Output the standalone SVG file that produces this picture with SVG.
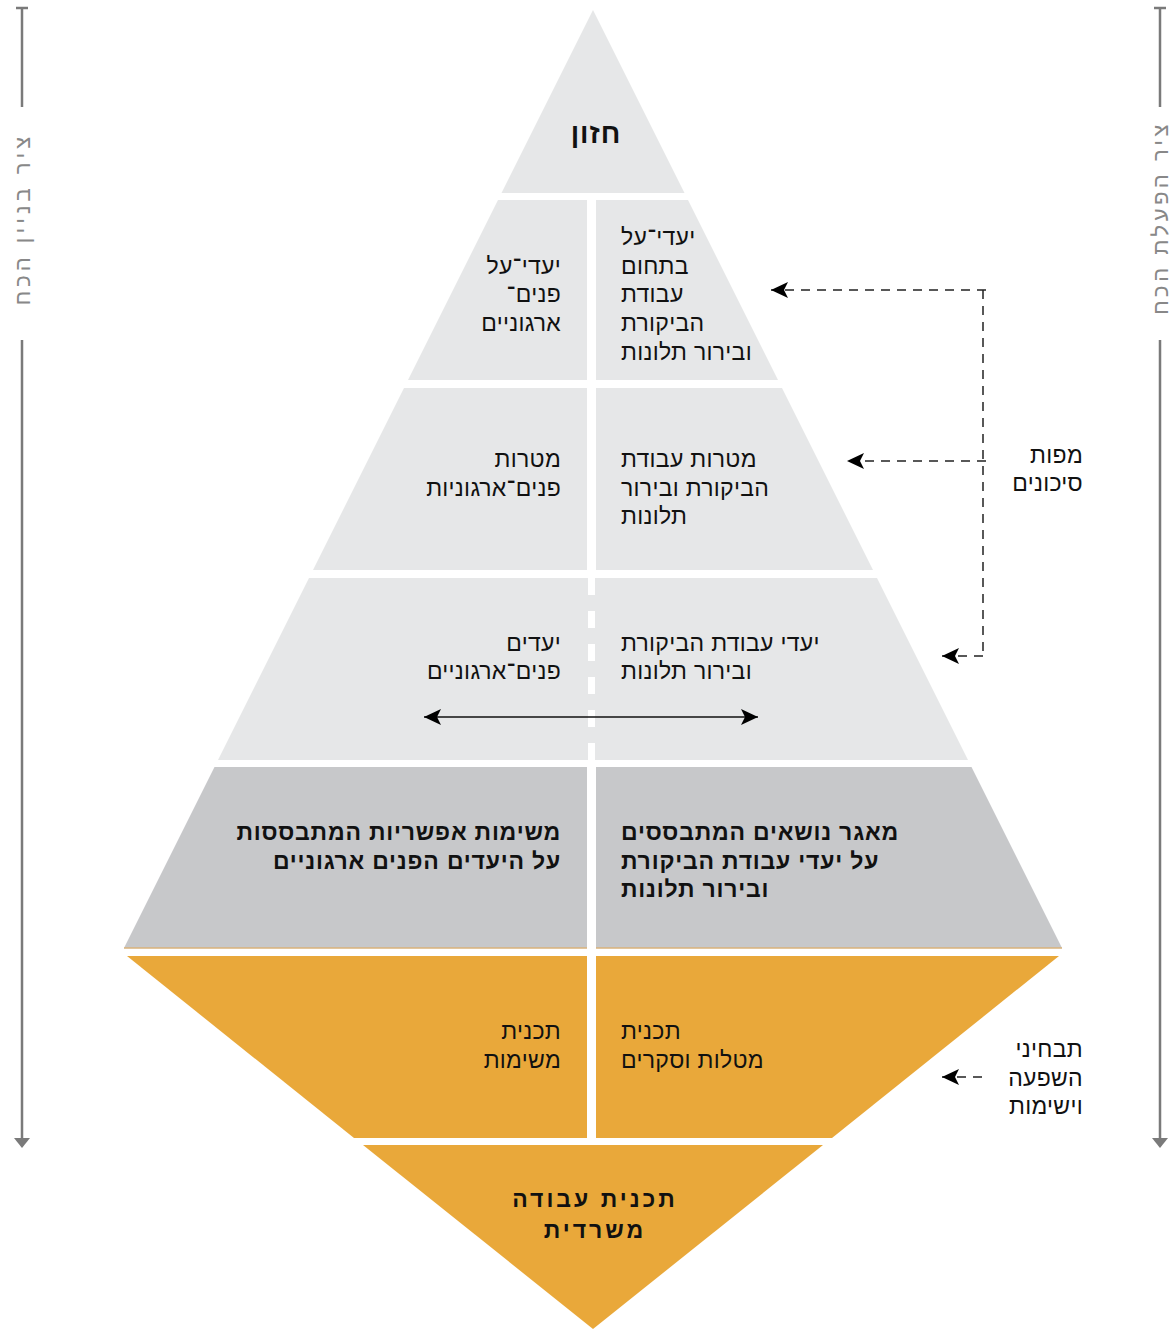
<svg xmlns="http://www.w3.org/2000/svg" width="1171" height="1329" viewBox="0 0 1171 1329">
<style>
.lg{fill:#e6e7e8}
.gb{fill:#c7c8ca}
.or{fill:#e9a83a}
.t{font-family:"Liberation Sans","DejaVu Sans",sans-serif;font-size:23px;letter-spacing:0.3px;fill:#111}
.b{font-family:"Liberation Sans","DejaVu Sans",sans-serif;font-size:23px;font-weight:bold;letter-spacing:0.8px;fill:#111}
.ax{font-family:"Liberation Sans","DejaVu Sans",sans-serif;font-size:22px;fill:#888;letter-spacing:4px}
.axl{stroke:#7a7a7a;stroke-width:2.5;fill:none}
.dash{stroke:#222;stroke-width:1.5;fill:none;stroke-dasharray:9 7}
.solid{stroke:#111;stroke-width:1.5;fill:none}
</style>
<defs>
<marker id="ah" markerWidth="20" markerHeight="20" refX="18" refY="10" orient="auto" markerUnits="userSpaceOnUse">
<path d="M18,10 L1,2 L5,10 L1,18 Z" fill="#000"/>
</marker>
<marker id="ahs" markerWidth="20" markerHeight="20" refX="18" refY="10" orient="auto-start-reverse" markerUnits="userSpaceOnUse">
<path d="M18,10 L1,2 L5,10 L1,18 Z" fill="#000"/>
</marker>
</defs>
<rect width="1171" height="1329" fill="#fff"/>

<g id="axis-left">
<line class="axl" x1="22" y1="8" x2="22" y2="107"/>
<line class="axl" x1="16" y1="8" x2="28" y2="8"/>
<line class="axl" x1="22" y1="340" x2="22" y2="1140"/>
<path d="M14,1138 L30,1138 L22,1148 Z" fill="#7a7a7a"/>
<text class="ax" transform="translate(22,219) rotate(-90)" text-anchor="middle" dominant-baseline="central">ציר בניין הכח</text>
</g>
<g id="axis-right">
<line class="axl" x1="1160" y1="8" x2="1160" y2="107"/>
<line class="axl" x1="1154" y1="8" x2="1166" y2="8"/>
<line class="axl" x1="1160" y1="340" x2="1160" y2="1140"/>
<path d="M1152,1138 L1168,1138 L1160,1148 Z" fill="#7a7a7a"/>
<text class="ax" transform="translate(1160,218) rotate(-90)" text-anchor="middle" dominant-baseline="central" style="letter-spacing:3.5px">ציר הפעלת הכח</text>
</g>

<g id="vision">
<polygon class="lg" points="593,10 684.5,193 501.5,193"/>
<text class="b" x="596" y="143" text-anchor="middle" style="font-size:28px;letter-spacing:1px">חזון</text>
</g>

<g id="row2-left">
<polygon class="lg" points="498,200 587,200 587,380 408,380"/>
<text class="t" text-anchor="end"><tspan x="561" y="274">יעדי־על</tspan><tspan x="561" y="302">פנים־</tspan><tspan x="561" y="331">ארגוניים</tspan></text>
</g>
<g id="row2-right">
<polygon class="lg" points="596,200 688,200 778,380 596,380"/>
<text class="t" text-anchor="start"><tspan x="621" y="245">יעדי־על</tspan><tspan x="621" y="274">בתחום</tspan><tspan x="621" y="302">עבודת</tspan><tspan x="621" y="331">הביקורת</tspan><tspan x="621" y="360">ובירור תלונות</tspan></text>
</g>

<g id="row3-left">
<polygon class="lg" points="404,388 587,388 587,570 313,570"/>
<text class="t" text-anchor="end"><tspan x="561" y="467">מטרות</tspan><tspan x="561" y="496">פנים־ארגוניות</tspan></text>
</g>
<g id="row3-right">
<polygon class="lg" points="596,388 782,388 873,570 596,570"/>
<text class="t" text-anchor="start"><tspan x="621" y="467">מטרות עבודת</tspan><tspan x="621" y="496">הביקורת ובירור</tspan><tspan x="621" y="524">תלונות</tspan></text>
</g>

<g id="row4">
<polygon class="lg" points="309,578 877,578 968,760 218,760"/>
<line x1="591.5" y1="578" x2="591.5" y2="760" stroke="#fff" stroke-width="7" stroke-dasharray="17 16"/>
<text class="t" text-anchor="end"><tspan x="561" y="651">יעדים</tspan><tspan x="561" y="679">פנים־ארגוניים</tspan></text>
<text class="t" text-anchor="start"><tspan x="621" y="651">יעדי עבודת הביקורת</tspan><tspan x="621" y="679">ובירור תלונות</tspan></text>
</g>

<g id="row5-left">
<polygon class="gb" points="214.5,767 587,767 587,948 124,948"/>
<line x1="124" y1="948" x2="587" y2="948" stroke="#d8b27a" stroke-width="1.5"/>
<text class="b" text-anchor="end"><tspan x="561" y="840">משימות אפשריות המתבססות</tspan><tspan x="561" y="869">על היעדים הפנים ארגוניים</tspan></text>
</g>
<g id="row5-right">
<polygon class="gb" points="596,767 971.5,767 1062,948 596,948"/>
<line x1="596" y1="948" x2="1062" y2="948" stroke="#d8b27a" stroke-width="1.5"/>
<text class="b" text-anchor="start"><tspan x="621" y="840">מאגר נושאים המתבססים</tspan><tspan x="621" y="869">על יעדי עבודת הביקורת</tspan><tspan x="621" y="897">ובירור תלונות</tspan></text>
</g>

<g id="row6-left">
<polygon class="or" points="127,956 587,956 587,1138 354,1138"/>
<text class="t" text-anchor="end"><tspan x="561" y="1039">תכנית</tspan><tspan x="561" y="1068">משימות</tspan></text>
</g>
<g id="row6-right">
<polygon class="or" points="596,956 1059,956 832,1138 596,1138"/>
<text class="t" text-anchor="start"><tspan x="621" y="1039">תכנית</tspan><tspan x="621" y="1068">מטלות וסקרים</tspan></text>
</g>

<g id="row7">
<polygon class="or" points="363,1145 823,1145 593,1329"/>
<text class="b" text-anchor="middle" style="font-size:23px;letter-spacing:3px"><tspan x="595" y="1207">תכנית עבודה</tspan><tspan x="595" y="1238">משרדית</tspan></text>
</g>

<g id="label-risk">
<text class="t" text-anchor="end"><tspan x="1083" y="463">מפות</tspan><tspan x="1083" y="491">סיכונים</tspan></text>
</g>
<g id="label-criteria">
<text class="t" text-anchor="end"><tspan x="1083" y="1057">תבחיני</tspan><tspan x="1083" y="1086">השפעה</tspan><tspan x="1083" y="1114">וישימות</tspan></text>
</g>

<g id="connectors">
<line class="dash" x1="983" y1="290" x2="983" y2="656"/>
<line class="dash" x1="986" y1="290" x2="771" y2="290" marker-end="url(#ah)"/>
<line class="dash" x1="986" y1="461" x2="847" y2="461" marker-end="url(#ah)"/>
<line class="dash" x1="983" y1="656" x2="942" y2="656" marker-end="url(#ah)"/>
<line class="dash" x1="982" y1="1077" x2="942" y2="1077" marker-end="url(#ah)"/>
<line class="solid" x1="424" y1="717" x2="758" y2="717" marker-start="url(#ahs)" marker-end="url(#ah)"/>
</g>
</svg>
